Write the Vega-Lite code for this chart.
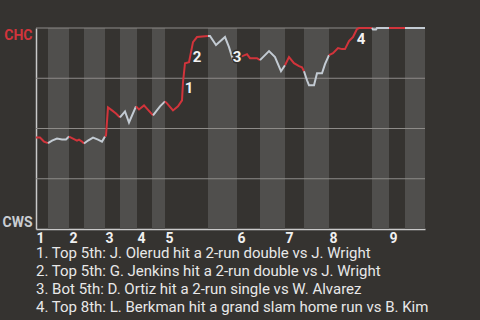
{
  "$schema": "https://vega.github.io/schema/vega-lite/v6.json",
  "width": 389,
  "height": 201,
  "autosize": {"type": "none"},
  "padding": {"left": 36, "top": 28, "right": 55, "bottom": 91},
  "background": "#353330",
  "config": {
    "view": {"stroke": null},
    "font": "Roboto"
  },
  "title": {
    "text": [
      "1. Top 5th: J. Olerud hit a 2-run double vs J. Wright",
      "2. Top 5th: G. Jenkins hit a 2-run double vs J. Wright",
      "3. Bot 5th: D. Ortiz hit a 2-run single vs W. Alvarez",
      "4. Top 8th: L. Berkman hit a grand slam home run vs B. Kim"
    ],
    "orient": "bottom",
    "anchor": "start",
    "frame": "group",
    "font": "Roboto",
    "fontSize": 15,
    "fontWeight": "normal",
    "color": "#e8e8e8",
    "lineHeight": 18,
    "offset": 1
  },
  "datasets": {
    "bands": [
      {"a": 2.4, "b": 6.6},
      {"a": 9.6, "b": 13.8},
      {"a": 16.8, "b": 20.2},
      {"a": 23.2, "b": 25.8},
      {"a": 34.4, "b": 40.2},
      {"a": 44.8, "b": 49.8},
      {"a": 53.6, "b": 58.6},
      {"a": 67.2, "b": 70.6},
      {"a": 73.8, "b": 77.8}
    ],
    "grid": [{"v": 0.25}, {"v": 0.5}, {"v": 0.75}, {"v": 1}],
    "wp": [
      {"s": 1, "t": "CHC", "p": 0, "w": 0.455},
      {"s": 1, "t": "CHC", "p": 0.8, "w": 0.455},
      {"s": 1, "t": "CHC", "p": 1.6, "w": 0.435},
      {"s": 1, "t": "CHC", "p": 2.4, "w": 0.4275},
      {"s": 2, "t": "CWS", "p": 2.4, "w": 0.4275},
      {"s": 2, "t": "CWS", "p": 3.2, "w": 0.44},
      {"s": 2, "t": "CWS", "p": 4.2, "w": 0.45},
      {"s": 2, "t": "CWS", "p": 5.2, "w": 0.445},
      {"s": 2, "t": "CWS", "p": 6.0, "w": 0.445},
      {"s": 2, "t": "CWS", "p": 6.6, "w": 0.46},
      {"s": 3, "t": "CHC", "p": 6.6, "w": 0.46},
      {"s": 3, "t": "CHC", "p": 7.4, "w": 0.45},
      {"s": 3, "t": "CHC", "p": 8.2, "w": 0.44},
      {"s": 3, "t": "CHC", "p": 8.6, "w": 0.445},
      {"s": 3, "t": "CHC", "p": 9.2, "w": 0.435},
      {"s": 3, "t": "CHC", "p": 9.6, "w": 0.425},
      {"s": 4, "t": "CWS", "p": 9.6, "w": 0.425},
      {"s": 4, "t": "CWS", "p": 10.4, "w": 0.44},
      {"s": 4, "t": "CWS", "p": 11.4, "w": 0.455},
      {"s": 4, "t": "CWS", "p": 12.4, "w": 0.445},
      {"s": 4, "t": "CWS", "p": 13.2, "w": 0.435},
      {"s": 4, "t": "CWS", "p": 13.8, "w": 0.46},
      {"s": 5, "t": "CHC", "p": 13.8, "w": 0.46},
      {"s": 5, "t": "CHC", "p": 14.0, "w": 0.465},
      {"s": 5, "t": "CHC", "p": 14.4, "w": 0.605},
      {"s": 5, "t": "CHC", "p": 15.2, "w": 0.59},
      {"s": 5, "t": "CHC", "p": 16.0, "w": 0.575},
      {"s": 5, "t": "CHC", "p": 16.8, "w": 0.555},
      {"s": 6, "t": "CWS", "p": 16.8, "w": 0.555},
      {"s": 6, "t": "CWS", "p": 17.8, "w": 0.585},
      {"s": 6, "t": "CWS", "p": 18.6, "w": 0.53},
      {"s": 6, "t": "CWS", "p": 20.0, "w": 0.61},
      {"s": 7, "t": "CHC", "p": 20.0, "w": 0.61},
      {"s": 7, "t": "CHC", "p": 20.6, "w": 0.595},
      {"s": 7, "t": "CHC", "p": 21.6, "w": 0.615},
      {"s": 7, "t": "CHC", "p": 23.4, "w": 0.565},
      {"s": 8, "t": "CWS", "p": 23.4, "w": 0.565},
      {"s": 8, "t": "CWS", "p": 24.8, "w": 0.61},
      {"s": 8, "t": "CWS", "p": 25.8, "w": 0.635},
      {"s": 9, "t": "CHC", "p": 25.8, "w": 0.635},
      {"s": 9, "t": "CHC", "p": 26.2, "w": 0.625},
      {"s": 9, "t": "CHC", "p": 27.4, "w": 0.59},
      {"s": 9, "t": "CHC", "p": 28.4, "w": 0.61},
      {"s": 9, "t": "CHC", "p": 29.2, "w": 0.64},
      {"s": 9, "t": "CHC", "p": 29.4, "w": 0.73},
      {"s": 9, "t": "CHC", "p": 29.8, "w": 0.825},
      {"s": 9, "t": "CHC", "p": 30.6, "w": 0.83},
      {"s": 9, "t": "CHC", "p": 31.4, "w": 0.93},
      {"s": 9, "t": "CHC", "p": 32.2, "w": 0.955},
      {"s": 9, "t": "CHC", "p": 34.4, "w": 0.96},
      {"s": 10, "t": "CWS", "p": 34.4, "w": 0.96},
      {"s": 10, "t": "CWS", "p": 34.8, "w": 0.96},
      {"s": 10, "t": "CWS", "p": 36.0, "w": 0.915},
      {"s": 10, "t": "CWS", "p": 37.8, "w": 0.955},
      {"s": 10, "t": "CWS", "p": 38.6, "w": 0.905},
      {"s": 10, "t": "CWS", "p": 39.4, "w": 0.84},
      {"s": 10, "t": "CWS", "p": 40.2, "w": 0.85},
      {"s": 11, "t": "CHC", "p": 40.2, "w": 0.85},
      {"s": 11, "t": "CHC", "p": 40.8, "w": 0.855},
      {"s": 11, "t": "CHC", "p": 42.2, "w": 0.87},
      {"s": 11, "t": "CHC", "p": 42.8, "w": 0.85},
      {"s": 11, "t": "CHC", "p": 44.2, "w": 0.85},
      {"s": 11, "t": "CHC", "p": 44.8, "w": 0.84},
      {"s": 12, "t": "CWS", "p": 44.8, "w": 0.84},
      {"s": 12, "t": "CWS", "p": 46.6, "w": 0.885},
      {"s": 12, "t": "CWS", "p": 47.8, "w": 0.855},
      {"s": 12, "t": "CWS", "p": 49.0, "w": 0.785},
      {"s": 12, "t": "CWS", "p": 49.8, "w": 0.815},
      {"s": 13, "t": "CHC", "p": 49.8, "w": 0.815},
      {"s": 13, "t": "CHC", "p": 50.6, "w": 0.855},
      {"s": 13, "t": "CHC", "p": 51.6, "w": 0.825},
      {"s": 13, "t": "CHC", "p": 52.6, "w": 0.81},
      {"s": 13, "t": "CHC", "p": 53.2, "w": 0.805},
      {"s": 13, "t": "CHC", "p": 53.6, "w": 0.785},
      {"s": 14, "t": "CWS", "p": 53.6, "w": 0.785},
      {"s": 14, "t": "CWS", "p": 54.2, "w": 0.74},
      {"s": 14, "t": "CWS", "p": 54.6, "w": 0.715},
      {"s": 14, "t": "CWS", "p": 55.6, "w": 0.715},
      {"s": 14, "t": "CWS", "p": 56.2, "w": 0.775},
      {"s": 14, "t": "CWS", "p": 57.2, "w": 0.775},
      {"s": 14, "t": "CWS", "p": 57.8, "w": 0.82},
      {"s": 14, "t": "CWS", "p": 58.6, "w": 0.865},
      {"s": 15, "t": "CHC", "p": 58.6, "w": 0.865},
      {"s": 15, "t": "CHC", "p": 59.4, "w": 0.875},
      {"s": 15, "t": "CHC", "p": 60.4, "w": 0.9},
      {"s": 15, "t": "CHC", "p": 61.2, "w": 0.895},
      {"s": 15, "t": "CHC", "p": 61.8, "w": 0.895},
      {"s": 15, "t": "CHC", "p": 62.6, "w": 0.935},
      {"s": 15, "t": "CHC", "p": 63.4, "w": 0.955},
      {"s": 15, "t": "CHC", "p": 64.2, "w": 0.995},
      {"s": 15, "t": "CHC", "p": 64.6, "w": 1.0},
      {"s": 15, "t": "CHC", "p": 67.2, "w": 1.0},
      {"s": 16, "t": "CWS", "p": 67.2, "w": 1.0},
      {"s": 16, "t": "CWS", "p": 67.4, "w": 0.992},
      {"s": 16, "t": "CWS", "p": 68.0, "w": 0.992},
      {"s": 16, "t": "CWS", "p": 68.2, "w": 1.0},
      {"s": 16, "t": "CWS", "p": 70.6, "w": 1.0},
      {"s": 17, "t": "CHC", "p": 70.6, "w": 1.0},
      {"s": 17, "t": "CHC", "p": 73.8, "w": 1.0},
      {"s": 18, "t": "CWS", "p": 73.8, "w": 1.0},
      {"s": 18, "t": "CWS", "p": 77.8, "w": 1.0}
    ],
    "notes": [
      {"n": "1", "p": 30.6, "w": 0.70},
      {"n": "2", "p": 32.2, "w": 0.855},
      {"n": "3", "p": 40.2, "w": 0.855},
      {"n": "4", "p": 65.0, "w": 0.945}
    ]
  },
  "layer": [
    {
      "data": {"name": "bands"},
      "mark": {"type": "rect", "color": "#504f4d"},
      "encoding": {
        "x": {
          "field": "a",
          "type": "quantitative",
          "scale": {"domain": [0, 77.8], "nice": false, "zero": false},
          "axis": {
            "values": [0, 6.6, 13.8, 20.2, 25.8, 40.2, 49.8, 58.6, 70.6],
            "labelExpr": "indexof([0, 6.6, 13.8, 20.2, 25.8, 40.2, 49.8, 58.6, 70.6], datum.value) + 1",
            "title": null,
            "grid": false,
            "ticks": false,
            "domain": true,
            "domainColor": "#c9c9c9",
            "domainWidth": 1.5,
            "labelAlign": "left",
            "labelBaseline": "top",
            "labelPadding": 2,
            "labelFont": "Roboto",
            "labelFontSize": 14,
            "labelFontWeight": "bold",
            "labelColor": "#f0f0f0",
            "labelOverlap": false,
            "labelFlush": false,
            "labelBound": false
          }
        },
        "x2": {"field": "b"},
        "y": {"datum": 0, "type": "quantitative"},
        "y2": {"datum": 1}
      }
    },
    {
      "data": {"name": "grid"},
      "mark": {"type": "rule", "color": "#8d8b88", "strokeWidth": 1},
      "encoding": {
        "y": {
          "field": "v",
          "type": "quantitative",
          "scale": {"domain": [0, 1], "nice": false, "zero": false},
          "axis": {
            "values": [0, 1],
            "labelExpr": "datum.value == 1 ? 'CHC' : 'CWS'",
            "title": null,
            "grid": false,
            "ticks": false,
            "domain": true,
            "domainColor": "#c9c9c9",
            "domainWidth": 1.5,
            "labelFlush": true,
            "labelPadding": 4,
            "labelFont": "Roboto",
            "labelFontSize": 14,
            "labelFontWeight": "bold",
            "labelColor": {"condition": {"test": "datum.value == 1", "value": "#d2343b"}, "value": "#c9cdd2"}
          }
        }
      }
    },
    {
      "data": {"name": "wp"},
      "mark": {"type": "line", "strokeWidth": 2, "interpolate": "linear"},
      "encoding": {
        "x": {"field": "p", "type": "quantitative"},
        "y": {"field": "w", "type": "quantitative"},
        "detail": {"field": "s", "type": "nominal"},
        "color": {
          "field": "t",
          "type": "nominal",
          "scale": {"domain": ["CHC", "CWS"], "range": ["#d2343b", "#c3cbd3"]},
          "legend": null
        }
      }
    },
    {
      "data": {"name": "notes"},
      "mark": {"type": "text", "font": "Roboto", "fontSize": 15, "fontWeight": "bold", "color": "#353330", "stroke": "#353330", "strokeWidth": 3},
      "encoding": {
        "x": {"field": "p", "type": "quantitative"},
        "y": {"field": "w", "type": "quantitative"},
        "text": {"field": "n"}
      }
    },
    {
      "data": {"name": "notes"},
      "mark": {"type": "text", "font": "Roboto", "fontSize": 15, "fontWeight": "bold", "color": "#f2f2f2"},
      "encoding": {
        "x": {"field": "p", "type": "quantitative"},
        "y": {"field": "w", "type": "quantitative"},
        "text": {"field": "n"}
      }
    }
  ]
}
